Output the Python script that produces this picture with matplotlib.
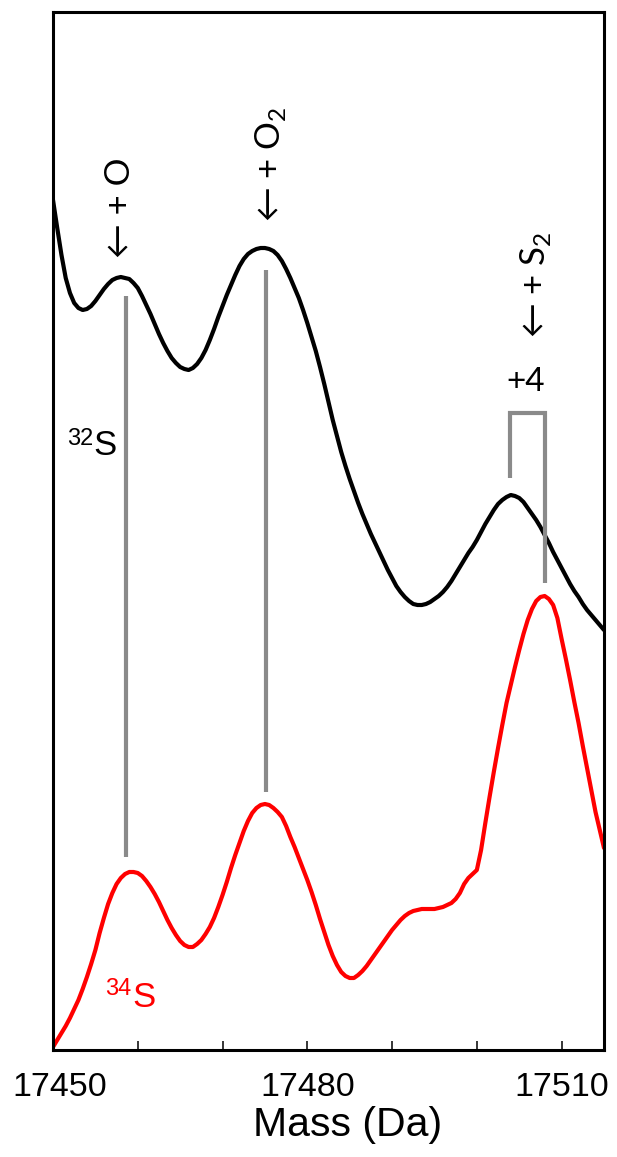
import matplotlib.pyplot as plt
from matplotlib.transforms import ScaledTranslation

plt.rcParams['font.family'] = ['Liberation Sans', 'DejaVu Sans']
plt.rcParams['mathtext.fontset'] = 'custom'
plt.rcParams['mathtext.rm'] = 'Lato'

# mass axis (Da), readings every 0.5 Da from 17450 to 17515
mass = [17450 + 0.5 * i for i in range(131)]

# 32S spectrum (black), arbitrary intensity
s32 = [850, 822, 795, 772, 757, 747, 742, 740, 741, 744,
       749, 755, 761, 766, 770, 772, 773, 772, 771, 767,
       762, 754, 745, 736, 726, 716, 707, 699, 692, 687,
       683, 681, 680, 682, 686, 692, 700, 710, 721, 733,
       744, 755, 765, 775, 784, 791, 796, 799, 801, 802,
       802, 801, 799, 795, 789, 781, 772, 762, 752, 740,
       727, 713, 699, 683, 666, 648, 630, 614, 598, 584,
       571, 559, 547, 536, 526, 516, 507, 498, 489, 480,
       472, 464, 458, 453, 449, 446, 445, 445, 446, 448,
       451, 454, 458, 463, 469, 476, 483, 490, 497, 503,
       510, 518, 526, 533, 540, 546, 550, 553, 555, 554,
       552, 548, 542, 536, 530, 523, 515, 507, 498, 490,
       482, 474, 466, 459, 453, 446, 440, 435, 430, 425,
       420]

# 34S spectrum (red)
s34 = [3, 10, 17, 24, 32, 41, 50, 61, 73, 86,
       100, 117, 132, 146, 157, 166, 172, 176, 178, 178,
       177, 174, 169, 163, 156, 148, 139, 130, 122, 115,
       109, 105, 103, 103, 106, 110, 116, 123, 132, 143,
       155, 168, 182, 195, 207, 219, 229, 237, 242, 245,
       246, 245, 242, 238, 233, 224, 213, 203, 192, 181,
       170, 158, 145, 131, 118, 105, 94, 85, 78, 74,
       72, 72, 75, 79, 84, 90, 96, 102, 108, 114,
       120, 125, 130, 134, 137, 139, 140, 141, 141, 141,
       141, 142, 143, 145, 147, 151, 157, 166, 172, 176,
       180, 200, 227, 253, 278, 302, 325, 347, 365, 383,
       400, 416, 430, 441, 449, 453, 454, 451, 445, 432,
       411, 391, 370, 348, 327, 304, 282, 260, 238, 220,
       202]

# gray connector lines between matching peaks
link_mass = [17458.6, 17475.1]
link_top = [754, 780]
link_bottom = [193, 258]

# +4 bracket
bracket_mass = [17503.9, 17508.0]
bracket_y = [572, 637, 467]

major_ticks = [17450, 17480, 17510]
minor_ticks = [17460, 17470, 17490, 17500]

fig = plt.figure(figsize=(6.17, 11.57), dpi=100)
ax = fig.add_axes([53 / 617, 1 - 1050 / 1157, 551 / 617, 1038 / 1157])

ax.plot(mass, s32, color='black', lw=3, solid_capstyle='round', solid_joinstyle='round')
ax.plot(mass, s34, color='#ff0000', lw=3, solid_capstyle='round', solid_joinstyle='round')

gray = '#8a8a8a'
for m, top, bot in zip(link_mass, link_top, link_bottom):
    ax.plot([m, m], [bot, top], color=gray, lw=3, solid_capstyle='butt')

ax.plot([bracket_mass[0], bracket_mass[0], bracket_mass[1], bracket_mass[1]],
        [bracket_y[0], bracket_y[1], bracket_y[1], bracket_y[2]],
        color=gray, lw=3, solid_joinstyle='miter', solid_capstyle='butt')

# annotations
afont = ['Lato', 'DejaVu Sans']
ax.text(17457.9, 792, '← + O', rotation=90, ha='center', va='bottom',
        fontsize=25, family=afont)
ax.text(17475.6, 828, '← + O$_2$', rotation=90, ha='center', va='bottom',
        fontsize=25, family=afont)
ax.text(17506.9, 712, '← + S$_2$', rotation=90, ha='center', va='bottom',
        fontsize=25, family=afont)
ax.text(17505.8, 659, '+4', ha='center', va='baseline', fontsize=24, family=afont)

ax.text(17454.8, 595, 'S', ha='left', va='baseline', fontsize=25)
ax.text(17454.7, 605, '32', ha='right', va='baseline', fontsize=17)
ax.text(17459.4, 43, 'S', ha='left', va='baseline', fontsize=25, color='#ff0000')
ax.text(17459.2, 55, '34', ha='right', va='baseline', fontsize=17, color='#ff0000')

ax.set_xlim(17450, 17515)
ax.set_ylim(0, 1038)
ax.set_yticks([])
ax.set_xticks(major_ticks)
ax.set_xticks(minor_ticks, minor=True)
ax.tick_params(axis='x', which='both', direction='in', length=6.5, width=1.1,
               labelsize=24.5, pad=16)
ax.set_xlabel('Mass (Da)', fontsize=29.5)
ax.xaxis.set_label_coords(0.535, -0.054)
for sp in ax.spines.values():
    sp.set_linewidth(2.2)

# first tick label sits a little right of its tick in the original
first = ax.xaxis.get_major_ticks()[0].label1
first.set_transform(first.get_transform() + ScaledTranslation(0.07, 0, fig.dpi_scale_trans))

fig.savefig('out.png', dpi=100)
